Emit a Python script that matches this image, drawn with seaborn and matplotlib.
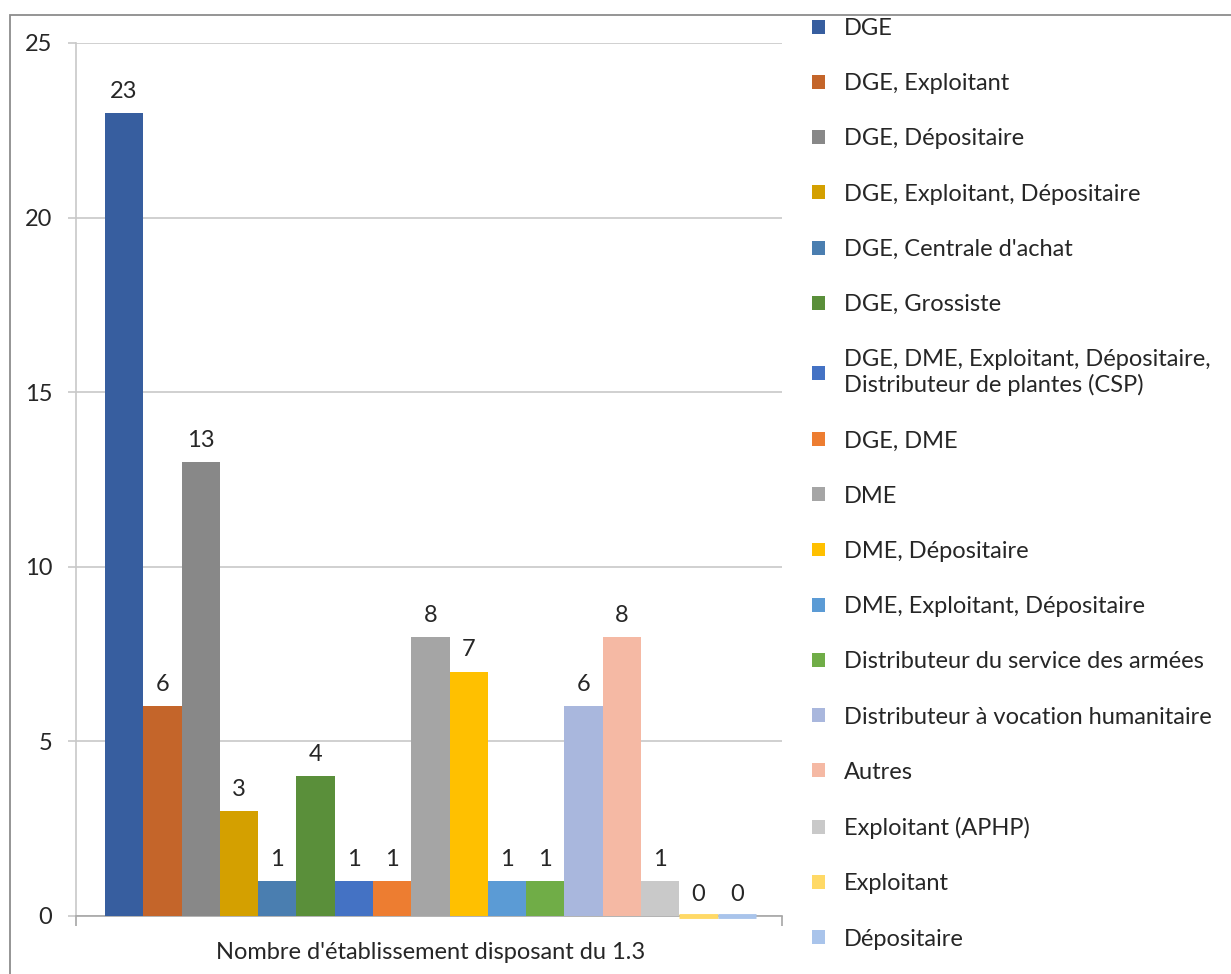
"""Bar chart: nombre d'établissements disposant du 1.3, par statut."""
import matplotlib
matplotlib.use("Agg")
import matplotlib.pyplot as plt
from matplotlib.patches import Rectangle
import seaborn as sns
import pandas as pd

# données
category = "Nombre d'établissement disposant du 1.3"
series = [
    "DGE",
    "DGE, Exploitant",
    "DGE, Dépositaire",
    "DGE, Exploitant, Dépositaire",
    "DGE, Centrale d'achat",
    "DGE, Grossiste",
    "DGE, DME, Exploitant, Dépositaire,\nDistributeur de plantes (CSP)",
    "DGE, DME",
    "DME",
    "DME, Dépositaire",
    "DME, Exploitant, Dépositaire",
    "Distributeur du service des armées",
    "Distributeur à vocation humanitaire",
    "Autres",
    "Exploitant (APHP)",
    "Exploitant",
    "Dépositaire",
]
values = [23, 6, 13, 3, 1, 4, 1, 1, 8, 7, 1, 1, 6, 8, 1, 0, 0]
colors = [
    "#375E9F", "#C4652A", "#888888", "#D4A000", "#4A7EB0", "#5A8F3A",
    "#4472C4", "#ED7D31", "#A5A5A5", "#FFC000", "#5B9BD5", "#70AD47",
    "#A9B7DD", "#F5B9A4", "#C9C9C9", "#FFD966", "#A9C4EB",
]
y_ticks = [0, 5, 10, 15, 20, 25]

FS = 17
TXT = "#262626"
GRID = "#C8C8C8"


def main():
    df = pd.DataFrame({
        "categorie": [category] * len(series),
        "statut": series,
        "valeur": values,
    })

    sns.set_theme(style="white")
    plt.rcParams["font.family"] = ["Lato", "DejaVu Sans"]

    fig = plt.figure(figsize=(12.31, 9.74), dpi=100)
    ax = fig.add_axes([76 / 1231, 1 - 916 / 974, (782 - 76) / 1231, (916 - 43) / 974])

    sns.barplot(
        data=df, x="categorie", y="valeur", hue="statut",
        hue_order=series, palette=colors, saturation=1,
        width=0.8, linewidth=0, ax=ax, zorder=3,
    )

    # étiquettes de valeurs + barres nulles visibles comme un trait
    for cont, col in zip(ax.containers, colors):
        for p in cont.patches:
            if p.get_height() == 0:
                p.set_edgecolor(col)
                p.set_linewidth(3.5)
                p.set_zorder(4)
                p.set_clip_on(False)
        ax.bar_label(cont, fmt="%d", padding=8, fontsize=FS, color=TXT)

    ax.set_ylim(0, 25)
    ax.set_yticks(y_ticks)
    ax.set_xlim(-0.4356, 0.432)
    ax.set_xlabel("")
    ax.set_ylabel("")

    ax.yaxis.grid(True, color=GRID, linewidth=1.2, zorder=0)
    ax.set_axisbelow(True)
    for side in ["top", "right"]:
        ax.spines[side].set_visible(False)
    ax.spines["left"].set_color(GRID)
    ax.spines["left"].set_linewidth(1.2)
    ax.spines["bottom"].set_color("#A6A6A6")
    ax.spines["bottom"].set_linewidth(1.2)

    ax.tick_params(axis="y", left=True, length=6, width=1.2, color=GRID,
                   labelsize=FS, labelcolor=TXT, pad=11)
    ax.tick_params(axis="x", which="major", length=0, labelsize=FS,
                   labelcolor=TXT, pad=19)
    ax.set_xticks(ax.get_xlim(), minor=True)
    ax.tick_params(axis="x", which="minor", bottom=True, length=7, width=1.2,
                   color="#A6A6A6")

    sns.move_legend(
        ax, "upper left", bbox_to_anchor=(812 / 1231, 1 - 18 / 974),
        bbox_transform=fig.transFigure, frameon=False, title=None,
        fontsize=FS, labelcolor=TXT, handlelength=0.53, handleheight=0.53,
        handletextpad=0.82, labelspacing=1.45, borderpad=0, borderaxespad=0,
    )

    # cadre du graphique
    fig.patches.append(Rectangle(
        (10 / 1231, -0.1), 1.2, 1.1 - 15 / 974, transform=fig.transFigure,
        fill=False, edgecolor="#8C8C8C", linewidth=1.3,
    ))

    fig.savefig("out.png", dpi=100)


if __name__ == "__main__":
    main()
